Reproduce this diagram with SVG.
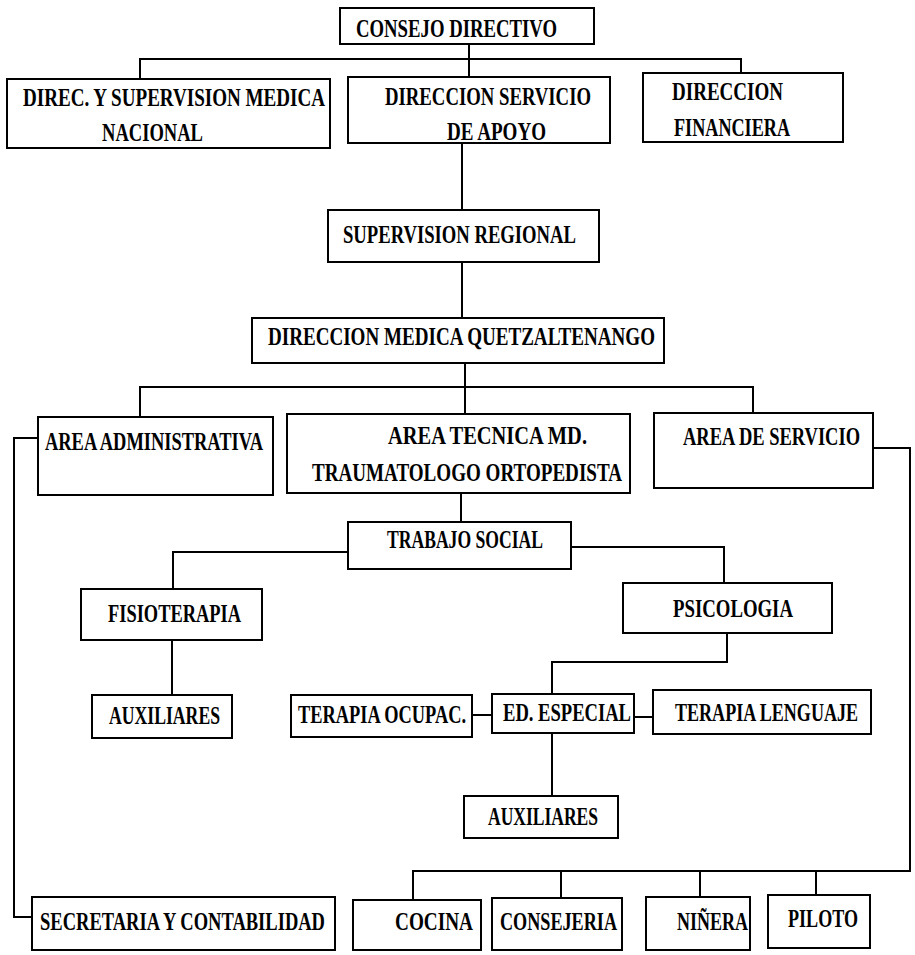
<svg xmlns="http://www.w3.org/2000/svg" width="915" height="955" viewBox="0 0 915 955">
<style>
rect{fill:#fff;stroke:#000;stroke-width:2}
text{font-family:"Liberation Serif","Times New Roman",serif;font-size:25px;font-weight:bold;fill:#000}
#connectors path{fill:none;stroke:#000;stroke-width:2}
</style>
<rect x="0" y="0" width="915" height="955" style="stroke:none"/>
<g id="connectors">
<path d="M469 44V77M140 79V59H741V73"/>
<path d="M462 143V210M462 262V318"/>
<path d="M465 363V414M140 417V387H753V413"/>
<path d="M38 438H14V917H32"/>
<path d="M873 448H910V871H413V900M561 871V898M700 871V897M816 871V895"/>
<path d="M461 493V522"/>
<path d="M348 552H173V589M571 547H724V583"/>
<path d="M172 640V695"/>
<path d="M727 633V662H552V694M552 733V796"/>
<path d="M472 715H492M634 717H653"/>
</g>
<g id="consejo"><rect x="340" y="8" width="254" height="36"/><text x="356" y="37" textLength="201" lengthAdjust="spacingAndGlyphs">CONSEJO DIRECTIVO</text></g>
<g id="direc-sup"><rect x="7" y="79" width="323" height="69"/><text x="23" y="106" textLength="302" lengthAdjust="spacingAndGlyphs">DIREC. Y SUPERVISION MEDICA</text><text x="102" y="141" textLength="101" lengthAdjust="spacingAndGlyphs">NACIONAL</text></g>
<g id="dir-serv"><rect x="348" y="77" width="262" height="66"/><text x="385" y="105" textLength="206" lengthAdjust="spacingAndGlyphs">DIRECCION SERVICIO</text><text x="447" y="140" textLength="99" lengthAdjust="spacingAndGlyphs">DE APOYO</text></g>
<g id="dir-fin"><rect x="643" y="73" width="200" height="69"/><text x="672" y="100" textLength="111" lengthAdjust="spacingAndGlyphs">DIRECCION</text><text x="674" y="136" textLength="116" lengthAdjust="spacingAndGlyphs">FINANCIERA</text></g>
<g id="sup-reg"><rect x="328" y="210" width="271" height="52"/><text x="343" y="243" textLength="233" lengthAdjust="spacingAndGlyphs">SUPERVISION REGIONAL</text></g>
<g id="dir-med"><rect x="252" y="318" width="412" height="45"/><text x="268" y="345" textLength="387" lengthAdjust="spacingAndGlyphs">DIRECCION MEDICA QUETZALTENANGO</text></g>
<g id="area-adm"><rect x="38" y="417" width="235" height="78"/><text x="45" y="450" textLength="218" lengthAdjust="spacingAndGlyphs">AREA ADMINISTRATIVA</text></g>
<g id="area-tec"><rect x="287" y="414" width="343" height="79"/><text x="388" y="444" textLength="199" lengthAdjust="spacingAndGlyphs">AREA TECNICA MD.</text><text x="312" y="481" textLength="310" lengthAdjust="spacingAndGlyphs">TRAUMATOLOGO ORTOPEDISTA</text></g>
<g id="area-serv"><rect x="654" y="413" width="219" height="75"/><text x="683" y="445" textLength="177" lengthAdjust="spacingAndGlyphs">AREA DE SERVICIO</text></g>
<g id="trabajo"><rect x="348" y="522" width="223" height="47"/><text x="387" y="548" textLength="156" lengthAdjust="spacingAndGlyphs">TRABAJO SOCIAL</text></g>
<g id="fisio"><rect x="81" y="589" width="181" height="51"/><text x="108" y="622" textLength="133" lengthAdjust="spacingAndGlyphs">FISIOTERAPIA</text></g>
<g id="psico"><rect x="623" y="583" width="209" height="50"/><text x="673" y="617" textLength="120" lengthAdjust="spacingAndGlyphs">PSICOLOGIA</text></g>
<g id="aux1"><rect x="92" y="695" width="140" height="43"/><text x="109" y="724" textLength="111" lengthAdjust="spacingAndGlyphs">AUXILIARES</text></g>
<g id="ter-ocup"><rect x="291" y="695" width="181" height="42"/><text x="298" y="723" textLength="168" lengthAdjust="spacingAndGlyphs">TERAPIA OCUPAC.</text></g>
<g id="ed-esp"><rect x="492" y="694" width="142" height="39"/><text x="503" y="721" textLength="128" lengthAdjust="spacingAndGlyphs">ED. ESPECIAL</text></g>
<g id="ter-leng"><rect x="653" y="690" width="218" height="44"/><text x="675" y="721" textLength="183" lengthAdjust="spacingAndGlyphs">TERAPIA LENGUAJE</text></g>
<g id="aux2"><rect x="464" y="796" width="154" height="42"/><text x="488" y="825" textLength="110" lengthAdjust="spacingAndGlyphs">AUXILIARES</text></g>
<g id="secret"><rect x="32" y="897" width="303" height="53"/><text x="40" y="930" textLength="285" lengthAdjust="spacingAndGlyphs">SECRETARIA Y CONTABILIDAD</text></g>
<g id="cocina"><rect x="353" y="900" width="128" height="50"/><text x="395" y="930" textLength="78" lengthAdjust="spacingAndGlyphs">COCINA</text></g>
<g id="consej"><rect x="492" y="898" width="130" height="52"/><text x="500" y="930" textLength="117" lengthAdjust="spacingAndGlyphs">CONSEJERIA</text></g>
<g id="ninera"><rect x="646" y="897" width="104" height="53"/><text x="677" y="930" textLength="71" lengthAdjust="spacingAndGlyphs">NIÑERA</text></g>
<g id="piloto"><rect x="768" y="895" width="102" height="53"/><text x="788" y="927" textLength="70" lengthAdjust="spacingAndGlyphs">PILOTO</text></g>
</svg>
